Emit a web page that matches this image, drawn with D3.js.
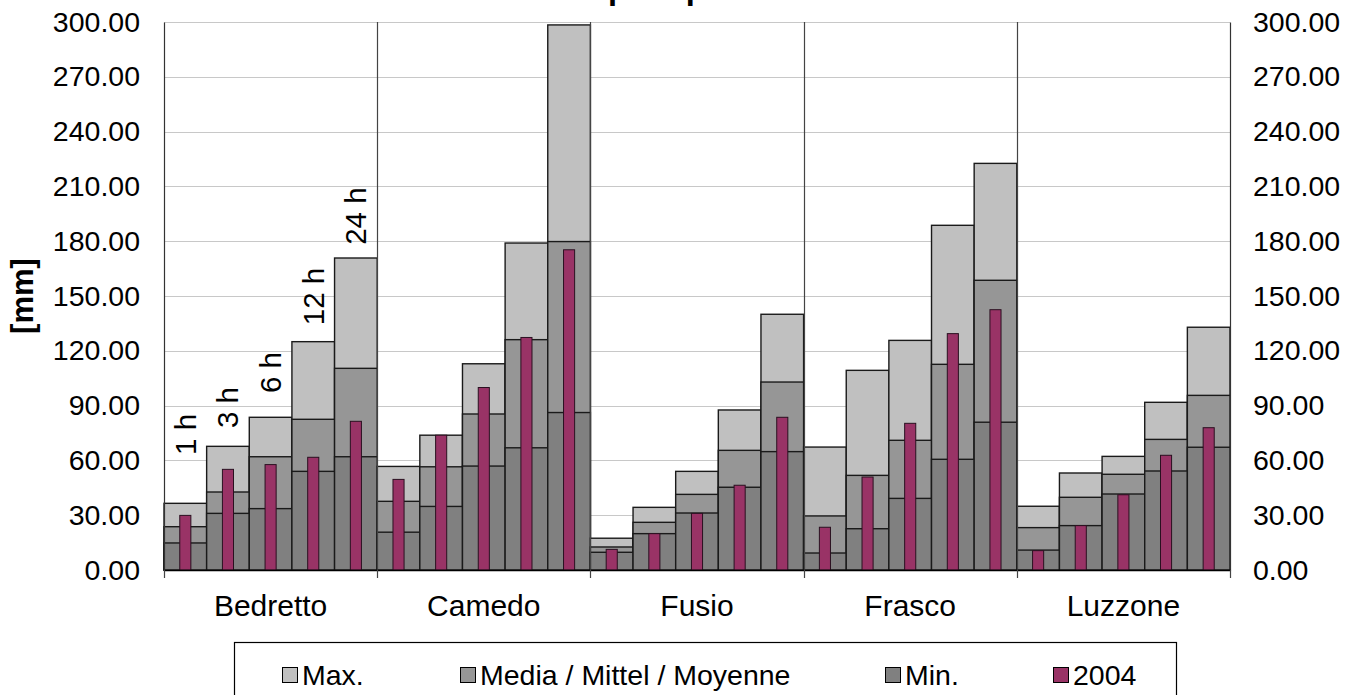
<!DOCTYPE html>
<html>
<head>
<meta charset="utf-8">
<script src="https://cdn.jsdelivr.net/npm/d3@7"></script>
<style>
  html, body { margin: 0; padding: 0; background: #fff; }
  svg { display: block; }
  text { font-family: "Liberation Sans", Arial, sans-serif; fill: #000; }
</style>
</head>
<body>
<svg id="chart" width="1345" height="695"></svg>
<script>
// ---- data ----
const categories = ["Bedretto", "Camedo", "Fusio", "Frasco", "Luzzone"];
const durations = ["1 h", "3 h", "6 h", "12 h", "24 h"];
const seriesNames = ["Max.", "Media / Mittel / Moyenne", "Min.", "2004"];
const yTicks = [0, 30, 60, 90, 120, 150, 180, 210, 240, 270, 300];

const maxValues = [
  [36.5, 67.7, 83.6, 125.0, 170.8],
  [56.7, 73.8, 112.9, 179.0, 298.4],
  [17.4, 34.3, 54.0, 87.6, 140.0],
  [67.3, 109.3, 125.7, 188.7, 222.6],
  [34.9, 53.1, 62.2, 91.8, 132.9]
];
const meanValues = [
  [23.7, 42.7, 62.0, 82.5, 110.4],
  [37.6, 56.5, 85.4, 126.1, 179.8],
  [12.6, 26.1, 41.4, 65.5, 102.9],
  [29.6, 51.8, 71.0, 112.6, 158.6],
  [23.2, 39.8, 52.4, 71.5, 95.6]
];
const minValues = [
  [14.8, 31.0, 33.6, 54.0, 62.0],
  [20.7, 34.8, 56.9, 66.9, 86.2],
  [9.7, 19.9, 31.2, 45.3, 64.8],
  [9.3, 22.6, 39.2, 60.6, 80.9],
  [10.9, 24.3, 41.6, 54.2, 67.2]
];
const values2004 = [
  [29.9, 55.1, 57.7, 61.7, 81.4],
  [49.6, 73.8, 99.9, 127.3, 175.3],
  [11.3, 19.9, 31.0, 46.4, 83.6],
  [23.4, 50.9, 80.3, 129.4, 142.5],
  [10.6, 24.3, 41.2, 62.8, 77.9]
];
// positions (in mm) where the duration labels above Bedretto start
const durationLabelAt = [63, 77.7, 96.9, 134, 178];

const colors = ["#c0c0c0", "#969696", "#808080", "#993366"];

// ---- layout ----
const svg = d3.select("#chart");
const plot = { left: 164, right: 1230, top: 22, bottom: 570 };

const x0 = d3.scaleBand().domain(categories).range([plot.left, plot.right]).padding(0);
const x1 = d3.scaleBand().domain(durations).range([0, x0.bandwidth()]).padding(0);
const y = d3.scaleLinear().domain([0, 300]).range([plot.bottom, plot.top]);

// title (mostly cut off at the top of the frame, as in the original)
const title = svg.append("text")
  .attr("y", -1)
  .attr("font-size", 32.5)
  .attr("font-weight", "bold")
  .text("Intensità delle precipitazioni");
{
  const full = title.text();
  const idx = full.indexOf("precip");
  const off = title.node().getSubStringLength(0, idx);
  title.attr("x", 608 - off);
}

// gridlines
svg.append("g")
  .selectAll("line")
  .data(yTicks)
  .join("line")
  .attr("x1", plot.left).attr("x2", plot.right)
  .attr("y1", d => Math.round(y(d)) + 0.5).attr("y2", d => Math.round(y(d)) + 0.5)
  .attr("stroke", "#c8c8c8").attr("stroke-width", 1.2);

// bars
const groups = svg.append("g").selectAll("g")
  .data(categories)
  .join("g")
  .attr("transform", d => `translate(${x0(d)},0)`);

const layers = [maxValues, meanValues, minValues];
layers.forEach((arr, si) => {
  groups.selectAll("rect.s" + si)
    .data((c, ci) => durations.map((d, di) => ({ d, v: arr[ci][di] })))
    .join("rect")
    .attr("class", "s" + si)
    .attr("x", d => x1(d.d))
    .attr("width", x1.bandwidth())
    .attr("y", d => y(d.v))
    .attr("height", d => y(0) - y(d.v))
    .attr("fill", colors[si])
    .attr("stroke", "#1a1a1a")
    .attr("stroke-width", 1.4);
});

const narrow = x1.bandwidth() * 0.26;
groups.selectAll("rect.s3")
  .data((c, ci) => durations.map((d, di) => ({ d, v: values2004[ci][di] })))
  .join("rect")
  .attr("class", "s3")
  .attr("x", d => x1(d.d) + (x1.bandwidth() - narrow) / 2)
  .attr("width", narrow)
  .attr("y", d => y(d.v))
  .attr("height", d => y(0) - y(d.v))
  .attr("fill", colors[3])
  .attr("stroke", "#2a1020")
  .attr("stroke-width", 1);

// category separators (vertical gridlines)
svg.append("g")
  .selectAll("line")
  .data(categories.slice(1))
  .join("line")
  .attr("x1", d => Math.round(x0(d)) + 0.5).attr("x2", d => Math.round(x0(d)) + 0.5)
  .attr("y1", plot.top).attr("y2", plot.bottom)
  .attr("stroke", "#444").attr("stroke-width", 1.2);

// axes
const fmt = d3.format(".2f");
const leftAxis = svg.append("g")
  .attr("transform", `translate(${plot.left},0)`)
  .call(d3.axisLeft(y).tickValues(yTicks).tickFormat(fmt).tickSize(0).tickPadding(24));
const rightAxis = svg.append("g")
  .attr("transform", `translate(${plot.right},0)`)
  .call(d3.axisRight(y).tickValues(yTicks).tickFormat(fmt).tickSize(0).tickPadding(23));
[leftAxis, rightAxis].forEach(a => {
  a.select(".domain").attr("stroke", "#333").attr("stroke-width", 1.2);
  a.selectAll("text").attr("font-size", 28.5).attr("font-family", "Liberation Sans, Arial, sans-serif").attr("fill", "#000");
});

const bottomAxis = svg.append("g")
  .attr("transform", `translate(0,${plot.bottom})`)
  .call(d3.axisBottom(x0).tickSize(0).tickPadding(25));
bottomAxis.select(".domain").attr("stroke", "#000").attr("stroke-width", 1.5);
bottomAxis.selectAll("text").attr("font-size", 30).attr("font-family", "Liberation Sans, Arial, sans-serif").attr("fill", "#000");
// boundary tick marks
svg.append("g")
  .selectAll("line")
  .data(categories.map(c => x0(c)).concat([plot.right]))
  .join("line")
  .attr("x1", d => Math.round(d) + 0.5).attr("x2", d => Math.round(d) + 0.5)
  .attr("y1", plot.bottom).attr("y2", plot.bottom + 8)
  .attr("stroke", "#444").attr("stroke-width", 1.2);

// y-axis title
svg.append("text")
  .attr("transform", "translate(33,296) rotate(-90)")
  .attr("text-anchor", "middle")
  .attr("font-size", 31)
  .attr("font-weight", "bold")
  .text("[mm]");

// duration labels above Bedretto bars
svg.append("g")
  .selectAll("text")
  .data(durations)
  .join("text")
  .attr("transform", (d, i) => `translate(${x0(categories[0]) + x1(d) + x1.bandwidth() / 2},${y(durationLabelAt[i])}) rotate(-90)`)
  .attr("dy", "0.35em")
  .attr("text-anchor", "start")
  .attr("font-size", 29.5)
  .text(d => d);

// legend
const legend = svg.append("g");
legend.append("rect")
  .attr("x", 234.5).attr("y", 642.5)
  .attr("width", 942).attr("height", 70)
  .attr("fill", "#fff").attr("stroke", "#000").attr("stroke-width", 1.2);
const legendX = [282, 460, 885, 1053];
const items = legend.selectAll("g.item")
  .data(seriesNames)
  .join("g")
  .attr("class", "item")
  .attr("transform", (d, i) => `translate(${legendX[i]},675)`);
items.append("rect")
  .attr("x", 0.5).attr("y", -7.5)
  .attr("width", 15).attr("height", 15)
  .attr("fill", (d, i) => colors[i])
  .attr("stroke", "#000").attr("stroke-width", 1);
items.append("text")
  .attr("x", 20).attr("dy", "0.36em")
  .attr("font-size", 28.5)
  .text(d => d);
</script>
</body>
</html>
